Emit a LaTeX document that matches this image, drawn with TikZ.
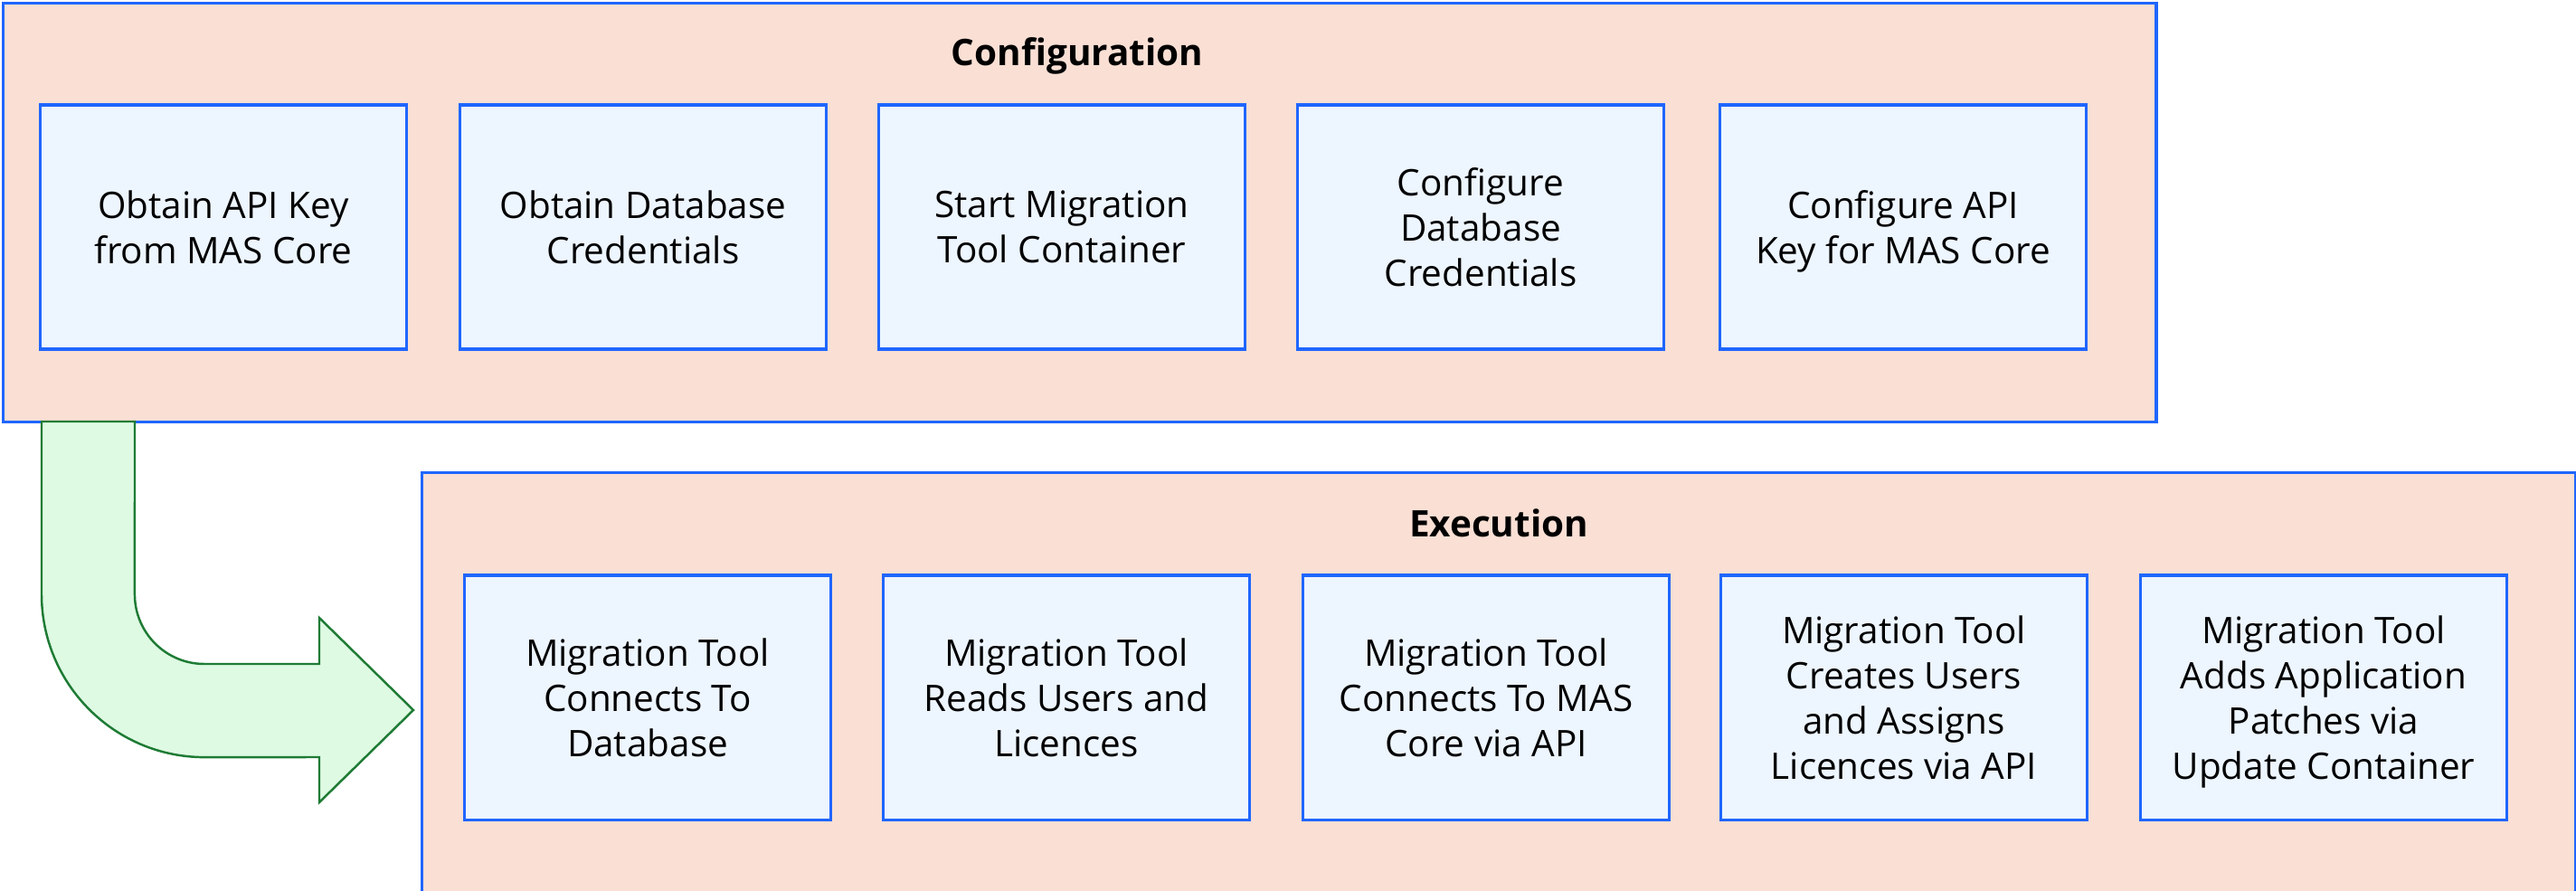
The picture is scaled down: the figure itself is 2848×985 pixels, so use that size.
\documentclass[tikz,border=0pt]{standalone}
\usepackage{fontspec}
\setmainfont{Open Sans}
\usetikzlibrary{positioning}

\definecolor{panelfill}{HTML}{F9DFD4}
\definecolor{edgeblue}{HTML}{1F66FF}
\definecolor{taskfill}{HTML}{EDF5FF}
\definecolor{flowfill}{HTML}{DEFAE3}
\definecolor{flowedge}{HTML}{1E7B34}

\begin{document}
\begin{tikzpicture}[
    x=0.01cm, y=-0.01cm,
    font=\fontsize{11.5}{14.2}\selectfont,
    panel/.style={draw=edgeblue, fill=panelfill, line width=0.9pt, anchor=north west, inner sep=0pt},
    task/.style={draw=edgeblue, fill=taskfill, line width=0.9pt, minimum width=4.05cm, minimum height=2.7cm, align=center, inner sep=0pt},
    heading/.style={font=\fontsize{11.5}{14.2}\selectfont\bfseries, anchor=base},
    flow/.style={draw=flowedge, fill=flowfill, line width=0.7pt, line join=miter}
  ]

  \useasboundingbox (0,0) rectangle (2848,985);

  % --- Panels ---
  \node[panel, minimum width=23.79cm, minimum height=4.63cm] (config) at (2,2) {};
  \node[panel, minimum width=23.80cm, minimum height=5.20cm] (execution) at (465,521) {};

  \node[heading] (cfgtitle) at (1191,73) {Configuration};
  \node[heading] (exetitle) at (1657,593) {Execution};

  % --- Configuration steps ---
  \foreach \i/\x/\txt in {1/247/Obtain API Key\\from MAS Core,
                          2/711/Obtain Database\\Credentials,
                          3/1174/Start Migration\\Tool Container,
                          4/1637/Configure\\Database\\Credentials,
                          5/2104/Configure API\\\smash{Key for MAS Core}} {
    \node[task] (cfg\i) at (\x,251) {\txt};
  }

  % --- Execution steps ---
  \foreach \i/\x/\txt in {1/716/Migration Tool\\Connects To\\Database,
                          2/1179/Migration Tool\\Reads Users and\\Licences,
                          3/1643/Migration Tool\\Connects To MAS\\Core via API,
                          4/2105/Migration Tool\\Creates Users\\and Assigns\\Licences via API,
                          5/2569/Migration Tool\\Adds Application\\Patches via\\\smash{Update Container}} {
    \node[task] (exe\i) at (\x,771) {\txt};
  }

  % --- Flow arrow ---
  \draw[flow] (46,466) -- (46,657) arc[start angle=180, end angle=270, radius=1.8cm]
    -- (353,837) -- (353,887) -- (457,785) -- (353,683) -- (353,734) -- (226,734)
    arc[start angle=270, end angle=180, radius=0.77cm] -- (149,466) -- cycle;

\end{tikzpicture}
\end{document}
